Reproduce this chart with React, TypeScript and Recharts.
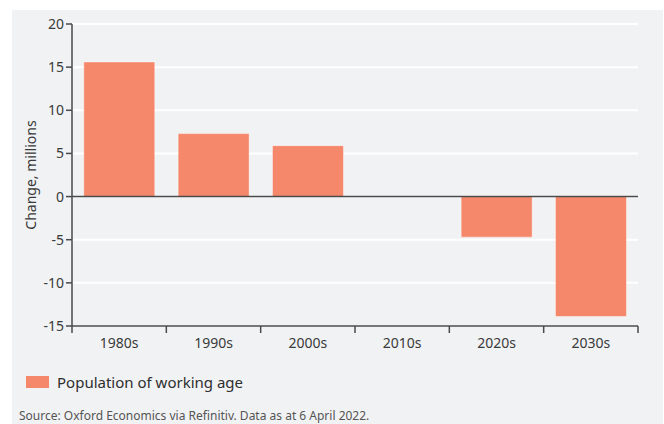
/**
 * WorkingAgeChart - decade change in working-age population (bar chart).
 */

import { BarChart, Bar, XAxis, YAxis, CartesianGrid, ReferenceLine } from 'recharts';

const decades = ['1980s', '1990s', '2000s', '2010s', '2020s', '2030s'];
const workingAgeChange = [15.6, 7.3, 5.9, 0, -4.7, -13.9];
const yTicks = [-15, -10, -5, 0, 5, 10, 15, 20];

const SERIES_NAME = 'Population of working age';
const SOURCE = 'Source: Oxford Economics via Refinitiv. Data as at 6 April 2022.';

const COLORS = {
  bar: '#f5876a',
  panel: '#f1f2f4',
  axis: '#4a4a4a',
  text: '#3a3a3a',
  muted: '#555555',
};

const FONT = '"Noto Sans", "Open Sans", sans-serif';

const data = decades.map((decade, i) => ({ decade, value: workingAgeChange[i] }));

// category tick: label in the middle, tick marks on the band edges
const DecadeTick = (props: any) => {
  const { x, y, payload, index, visibleTicksCount } = props;
  const half = payload?.offset ?? 0;
  const last = index === visibleTicksCount - 1;
  return (
    <g>
      <line x1={x - half} x2={x - half} y1={y - 8} y2={y - 1} stroke={COLORS.axis} strokeWidth={1.5} />
      {last && (
        <line x1={x + half} x2={x + half} y1={y - 8} y2={y - 1} stroke={COLORS.axis} strokeWidth={1.5} />
      )}
      <text x={x} y={y} dy={14} textAnchor="middle" fill={COLORS.text} fontSize={14} fontFamily={FONT}>
        {payload.value}
      </text>
    </g>
  );
};

const AxisTitle = ({ viewBox }: any) => {
  const cx = viewBox.x + 18;
  const cy = viewBox.y + viewBox.height / 2;
  return (
    <text
      x={cx}
      y={cy}
      transform={`rotate(-90 ${cx} ${cy})`}
      textAnchor="middle"
      dominantBaseline="central"
      fill={COLORS.text}
      fontSize={14}
      fontFamily={FONT}
    >
      Change, millions
    </text>
  );
};

export default function App() {
  return (
    <div style={{ position: 'fixed', left: 0, top: 0, width: 664, height: 424, background: '#fff' }}>
      <div
        style={{
          position: 'absolute',
          left: 12,
          top: 10,
          width: 651,
          height: 414,
          background: COLORS.panel,
          fontFamily: FONT,
        }}
      >
        <BarChart
          width={651}
          height={346}
          data={data}
          margin={{ top: 14, right: 25, left: 0, bottom: 0 }}
          barCategoryGap="12.5%"
        >
          <CartesianGrid vertical={false} stroke="#ffffff" strokeWidth={2} />
          <XAxis
            dataKey="decade"
            height={30}
            axisLine={{ stroke: COLORS.axis, strokeWidth: 1.5 }}
            tickLine={false}
            tick={<DecadeTick />}
            interval={0}
          />
          <YAxis
            width={60}
            domain={[-15, 20]}
            ticks={yTicks}
            interval={0}
            axisLine={{ stroke: COLORS.axis, strokeWidth: 1.5 }}
            tickLine={{ stroke: COLORS.axis, strokeWidth: 1.5 }}
            tickSize={6}
            tick={{ fill: COLORS.text, fontSize: 14, fontFamily: FONT }}
            label={<AxisTitle />}
          />
          <ReferenceLine y={0} stroke={COLORS.axis} strokeWidth={1.5} />
          <Bar
            dataKey="value"
            name={SERIES_NAME}
            fill={COLORS.bar}
            stroke="rgba(255,255,255,0.45)"
            strokeWidth={1}
            isAnimationActive={false}
          />
        </BarChart>

        <div style={{ position: 'absolute', left: 14, top: 362, display: 'flex', alignItems: 'center' }}>
          <span style={{ display: 'inline-block', width: 23, height: 12, background: COLORS.bar, marginRight: 8 }} />
          <span style={{ fontSize: 15, color: '#2e2e2e' }}>{SERIES_NAME}</span>
        </div>

        <div style={{ position: 'absolute', left: 7, top: 397, fontSize: 12, color: COLORS.muted }}>
          {SOURCE}
        </div>
      </div>
    </div>
  );
}
